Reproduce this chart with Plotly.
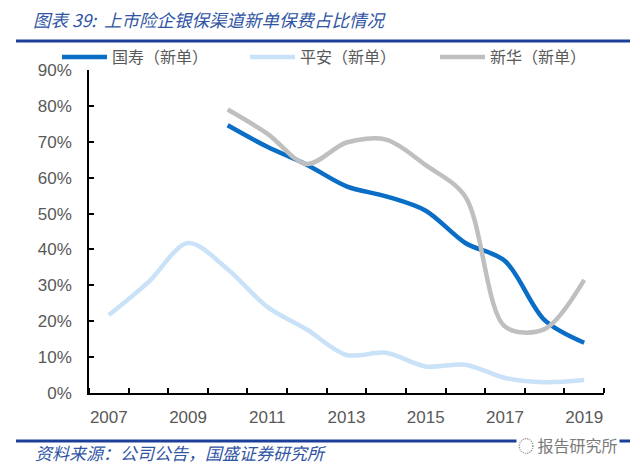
import plotly.graph_objects as go

# ─── Data ────────────────────────────────────────────────────────────
YEARS = list(range(2007, 2020))
GUOSHOU = [None, None, None, 0.746, 0.686, 0.636, 0.576, 0.548, 0.508, 0.418, 0.368, 0.203, 0.140]
PINGAN = [0.217, 0.309, 0.418, 0.345, 0.240, 0.177, 0.106, 0.112, 0.074, 0.079, 0.042, 0.030, 0.036]
XINHUA = [None, None, None, 0.790, 0.723, 0.638, 0.698, 0.706, 0.635, 0.547, 0.185, 0.178, 0.315]
X_LABELS = [2007, 2009, 2011, 2013, 2015, 2017, 2019]

SERIES = [
    ("国寿（新单）", GUOSHOU, "#0A6EC6"),
    ("平安（新单）", PINGAN, "#C9E2F8"),
    ("新华（新单）", XINHUA, "#BFBFBF"),
]

TEXT_COLOR = "#595959"
TITLE_COLOR = "#2F55A4"
RULE_COLOR = "#1C3F99"
CJK = "Noto Sans CJK SC"
NUM_FONT = "Liberation Sans, Arial, sans-serif"

# page body has an 8px margin, so the figure is drawn 8px smaller
W, H = 632, 466
LEGEND_X = [49, 237, 427]   # px, left edge of each legend box

fig = go.Figure()

for i, (name, vals, color) in enumerate(SERIES):
    fig.add_trace(go.Scatter(
        x=YEARS, y=vals,
        name=name,
        mode="lines",
        line=dict(width=4.5, color=color, shape="spline", smoothing=0.9),
        connectgaps=False,
        legend="legend" if i == 0 else f"legend{i + 1}",
    ))

# ─── Decorations: rules, title, source ───────────────────────────────
fig.add_shape(type="line", xref="paper", yref="paper",
              x0=-0.1417, x1=1.0505, y0=1.0898, y1=1.0898,
              line=dict(color=RULE_COLOR, width=3))
fig.add_shape(type="line", xref="paper", yref="paper",
              x0=-0.1417, x1=1.0505, y0=-0.1486, y1=-0.1486,
              line=dict(color=RULE_COLOR, width=3))

fig.add_annotation(
    xref="paper", yref="paper", x=-0.1126, y=1.155,
    xanchor="left", yanchor="middle", showarrow=False,
    text="<i>图表 39:  上市险企银保渠道新单保费占比情况</i>",
    font=dict(family=CJK, size=17.5, color=TITLE_COLOR),
)
fig.add_annotation(
    xref="paper", yref="paper", x=-0.108, y=-0.185,
    xanchor="left", yanchor="middle", showarrow=False,
    text="<i>资料来源：公司公告，国盛证券研究所</i>",
    font=dict(family=CJK, size=17, color=TITLE_COLOR),
)
fig.add_annotation(
    xref="paper", yref="paper", x=1.031, y=-0.161,
    xanchor="right", yanchor="middle", showarrow=False,
    text="◌ 报告研究所",
    bgcolor="white",
    font=dict(family=CJK, size=16, color="#7a7a7a"),
)

legends = {}
for i, px in enumerate(LEGEND_X):
    key = "legend" if i == 0 else f"legend{i + 1}"
    legends[key] = dict(
        orientation="h",
        xref="container", yref="container",
        x=px / W, y=1 - 49 / H,
        xanchor="left", yanchor="middle",
        font=dict(family=CJK, size=16, color=TEXT_COLOR),
        itemwidth=45,
        bgcolor="rgba(0,0,0,0)",
    )

fig.update_layout(
    width=W, height=H,
    paper_bgcolor="white",
    plot_bgcolor="white",
    margin=dict(l=81, r=36, t=62, b=81, autoexpand=False),
    font=dict(family=NUM_FONT, color=TEXT_COLOR, size=17),
    showlegend=True,
    **legends,
    xaxis=dict(
        range=[2006.5, 2019.5],
        tickvals=X_LABELS,
        ticks="",
        showgrid=False, zeroline=False,
        showline=True, linecolor="black", linewidth=1.5,
        ticklabelstandoff=8,
        minor=dict(ticks="inside", tick0=2006.5, dtick=1, ticklen=5,
                   tickcolor="black", tickwidth=1.5, showgrid=False),
    ),
    yaxis=dict(
        range=[0, 0.9],
        dtick=0.1,
        tickformat=".0%",
        ticks="inside", ticklen=5, tickcolor="black", tickwidth=1.5,
        showgrid=False, zeroline=False,
        showline=True, linecolor="black", linewidth=1.5,
        ticklabelstandoff=12,
    ),
)

fig.write_html("out.html")
